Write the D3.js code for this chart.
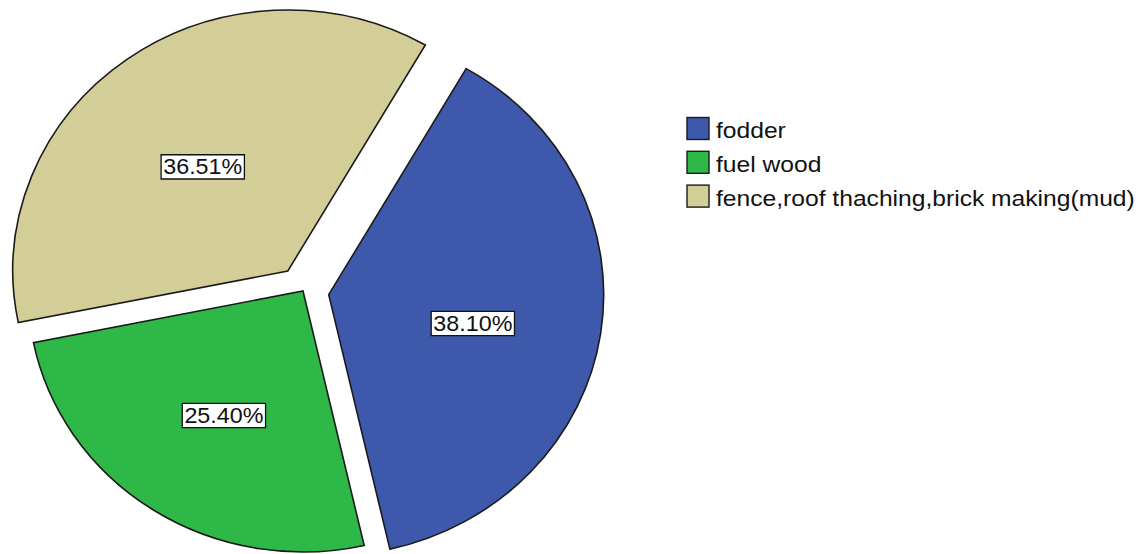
<!DOCTYPE html>
<html>
<head>
<meta charset="utf-8">
<script src="https://cdn.jsdelivr.net/npm/d3@7"></script>
<style>
  html, body { margin: 0; padding: 0; background: #fff; }
  svg { display: block; }
  text { font-family: "Liberation Sans", Arial, sans-serif; fill: #111; }
</style>
</head>
<body>
<svg id="chart" width="1142" height="554"></svg>
<script>
// Slice data
const categories = ["fodder", "fuel wood", "fence,roof thaching,brick making(mud)"];
const percentages = [38.10, 25.40, 36.51];
const labels = ["38.10%", "25.40%", "36.51%"];
const explodedSlices = [true, false, true];
const colors = ["#3E58AC", "#2EB848", "#D3CE97"];

// Geometry
const W = 1142, H = 554;
const cx = 303, cy = 291;
const rx = 275, ry = 261;          // pie is drawn slightly wider than tall
const yScale = ry / rx;
const explode = 26;                 // offset of exploded slices (in circle units)
const labelRadius = 0.53 * rx;
const labelDrop = 8;                // label boxes sit a little below the anchor point
const startDeg = 30;

const svg = d3.select("#chart");
svg.append("rect").attr("width", W).attr("height", H).attr("fill", "#fff");

const pie = d3.pie()
  .sort(null)
  .value(d => d.value)
  .startAngle(startDeg * Math.PI / 180)
  .endAngle(startDeg * Math.PI / 180 + 2 * Math.PI);

const data = categories.map((c, i) => ({
  name: c, value: percentages[i], label: labels[i],
  exploded: explodedSlices[i], color: colors[i]
}));
const arcs = pie(data);

const arc = d3.arc().innerRadius(0).outerRadius(rx);

// offset direction along the slice bisector (d3 angles: 0 = 12 o'clock, clockwise)
function dir(a) {
  const mid = (a.startAngle + a.endAngle) / 2;
  return [Math.sin(mid), -Math.cos(mid)];
}

const pieG = svg.append("g")
  .attr("transform", `translate(${cx},${cy}) scale(1,${yScale})`);

pieG.selectAll("path")
  .data(arcs)
  .join("path")
  .attr("transform", d => {
    const [dx, dy] = dir(d);
    const o = d.data.exploded ? explode : 0;
    return `translate(${dx * o},${dy * o})`;
  })
  .attr("d", arc)
  .attr("fill", d => d.data.color)
  .attr("stroke", "#1b1b1b")
  .attr("stroke-width", 1.6)
  .attr("stroke-linejoin", "miter")
  .attr("vector-effect", "non-scaling-stroke");

// Percentage labels in white boxes
const labelG = svg.append("g");
arcs.forEach(d => {
  const [dx, dy] = dir(d);
  const o = (d.data.exploded ? explode : 0) + labelRadius;
  const x = cx + dx * o;
  const y = cy + dy * o * yScale + labelDrop;
  const g = labelG.append("g").attr("transform", `translate(${x},${y}) scale(1.06,1)`);
  const box = g.append("rect");
  const t = g.append("text")
    .attr("text-anchor", "middle")
    .attr("y", 7.5)
    .style("font-size", "22px")
    .text(d.data.label);
  const bb = t.node().getBBox();
  box.attr("x", bb.x - 2).attr("y", bb.y + 1)
    .attr("width", bb.width + 4).attr("height", bb.height - 1)
    .attr("fill", "#fff")
    .attr("stroke", "#111")
    .attr("stroke-width", 1.3)
    .attr("vector-effect", "non-scaling-stroke");
});

// Legend
const legendX = 687, legendY = 117.5, rowH = 33.8, sw = 22;
const legend = svg.append("g");
data.forEach((d, i) => {
  const y = legendY + i * rowH;
  legend.append("rect")
    .attr("x", legendX).attr("y", y)
    .attr("width", sw).attr("height", sw)
    .attr("fill", d.color)
    .attr("stroke", "#1b1b1b")
    .attr("stroke-width", 1.4);
  legend.append("text")
    .attr("transform", `translate(${legendX + sw + 7},${y + sw - 1.5}) scale(1.095,1)`)
    .style("font-size", "22.5px")
    .text(d.name);
});
</script>
</body>
</html>
